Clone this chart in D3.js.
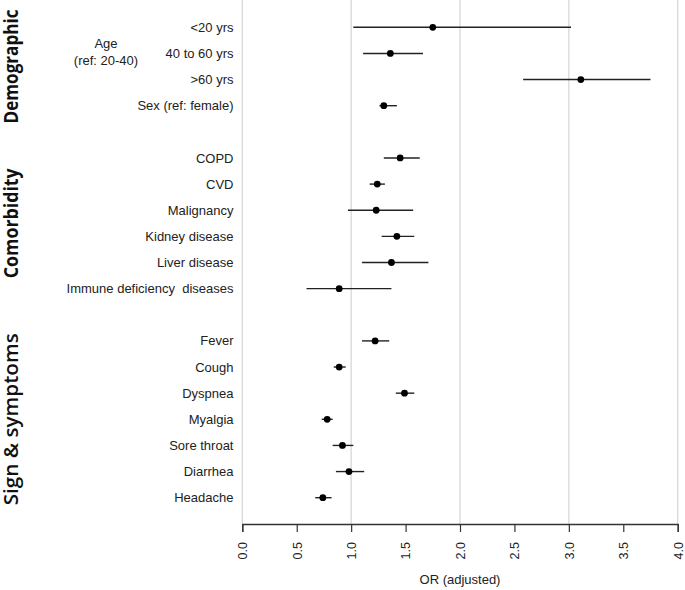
<!DOCTYPE html>
<html>
<head>
<meta charset="utf-8">
<script src="https://cdn.jsdelivr.net/npm/d3@7"></script>
<style>
  html, body { margin: 0; padding: 0; background: #fff; }
  svg { display: block; }
</style>
</head>
<body>
<svg id="chart" width="685" height="590"></svg>
<script>
// ---- data ----
const labels = ["<20 yrs", "40 to 60 yrs", ">60 yrs", "Sex (ref: female)",
  "COPD", "CVD", "Malignancy", "Kidney disease", "Liver disease", "Immune deficiency  diseases",
  "Fever", "Cough", "Dyspnea", "Myalgia", "Sore throat", "Diarrhea", "Headache"];
const slots = [0, 1, 2, 3, 5, 6, 7, 8, 9, 10, 12, 13, 14, 15, 16, 17, 18];
const orValues = [1.75, 1.36, 3.11, 1.30, 1.45, 1.24, 1.23, 1.42, 1.37, 0.89,
  1.22, 0.89, 1.49, 0.78, 0.92, 0.98, 0.74];
const ciLow = [1.02, 1.11, 2.58, 1.26, 1.30, 1.17, 0.97, 1.28, 1.10, 0.59,
  1.10, 0.84, 1.41, 0.73, 0.83, 0.86, 0.67];
const ciHigh = [3.02, 1.66, 3.75, 1.42, 1.63, 1.31, 1.57, 1.58, 1.71, 1.37,
  1.35, 0.95, 1.58, 0.83, 1.02, 1.12, 0.82];
const groups = ["Demographic", "Comorbidity", "Sign & symptoms"];
const groupSlots = [[0, 3], [5, 10], [12, 18]];
const xTicks = [0, 0.5, 1, 1.5, 2, 2.5, 3, 3.5, 4];
const gridValues = [0, 1, 2, 3, 4];
const xTitle = "OR (adjusted)";

// ---- layout ----
const svg = d3.select("#chart");
const x = d3.scaleLinear().domain([0, 4]).range([242.3, 677.7]);
const y = d3.scalePoint().domain(d3.range(19)).range([27.3, 497.7]);
const axisY = 524;

// grid
svg.append("g").selectAll("line").data(gridValues).join("line")
  .attr("x1", d => x(d)).attr("x2", d => x(d))
  .attr("y1", 0).attr("y2", axisY)
  .attr("stroke", "#d4d4d4").attr("stroke-width", 1.2);

// axis
const axis = d3.axisBottom(x).tickValues(xTicks).tickFormat(d3.format(".1f"))
  .tickSize(8).tickPadding(8);
const ax = svg.append("g").attr("transform", `translate(0,${axisY})`).call(axis);
ax.select(".domain").attr("stroke", "#333").attr("stroke-width", 1.3);
ax.selectAll(".tick line").attr("stroke", "#333").attr("stroke-width", 1.2);
ax.selectAll(".tick text")
  .attr("font-family", "'Liberation Sans', Arial, sans-serif")
  .attr("font-size", 12.5).attr("fill", "#222")
  .attr("transform", "rotate(-90)")
  .attr("text-anchor", "end")
  .attr("x", -18).attr("y", 0).attr("dy", "0.35em");

svg.append("text")
  .attr("x", x(2)).attr("y", 584)
  .attr("text-anchor", "middle")
  .attr("font-family", "'Liberation Sans', Arial, sans-serif")
  .attr("font-size", 13).attr("fill", "#222")
  .text(xTitle);

// row labels
const rows = labels.map((l, i) => ({ label: l, slot: slots[i], or: orValues[i], lo: ciLow[i], hi: ciHigh[i] }));

svg.append("g").selectAll("text").data(rows).join("text")
  .attr("x", 233.5).attr("y", d => y(d.slot))
  .attr("dy", "0.35em")
  .attr("text-anchor", "end")
  .attr("font-family", "'Liberation Sans', Arial, sans-serif")
  .attr("font-size", 13).attr("fill", "#222")
  .style("white-space", "pre")
  .text(d => d.label);

// Age sublabel
const ageLabel = svg.append("text")
  .attr("text-anchor", "middle")
  .attr("font-family", "'Liberation Sans', Arial, sans-serif")
  .attr("font-size", 13).attr("fill", "#222");
ageLabel.append("tspan").attr("x", 106).attr("y", 47.5).text("Age");
ageLabel.append("tspan").attr("x", 106).attr("y", 64.5).text("(ref: 20-40)");

// group titles
const groupLen = [114, 110, 172];
const groupWeight = [700, 700, 600];
svg.append("g").selectAll("text").data(groups).join("text")
  .attr("transform", (d, i) => {
    const cy = (y(groupSlots[i][0]) + y(groupSlots[i][1])) / 2;
    return `translate(17.5,${cy}) rotate(-90)`;
  })
  .attr("text-anchor", "middle")
  .attr("font-family", "'Open Sans', Lato, sans-serif")
  .attr("font-weight", (d, i) => groupWeight[i])
  .attr("font-size", 19).attr("fill", "#111")
  .attr("textLength", (d, i) => groupLen[i])
  .attr("lengthAdjust", "spacingAndGlyphs")
  .text(d => d);

// CI lines
svg.append("g").selectAll("line").data(rows).join("line")
  .attr("x1", d => x(d.lo)).attr("x2", d => x(d.hi))
  .attr("y1", d => y(d.slot)).attr("y2", d => y(d.slot))
  .attr("stroke", "#222").attr("stroke-width", 1.4);

// points
svg.append("g").selectAll("circle").data(rows).join("circle")
  .attr("cx", d => x(d.or)).attr("cy", d => y(d.slot))
  .attr("r", 3.4).attr("fill", "#000");
</script>
</body>
</html>
